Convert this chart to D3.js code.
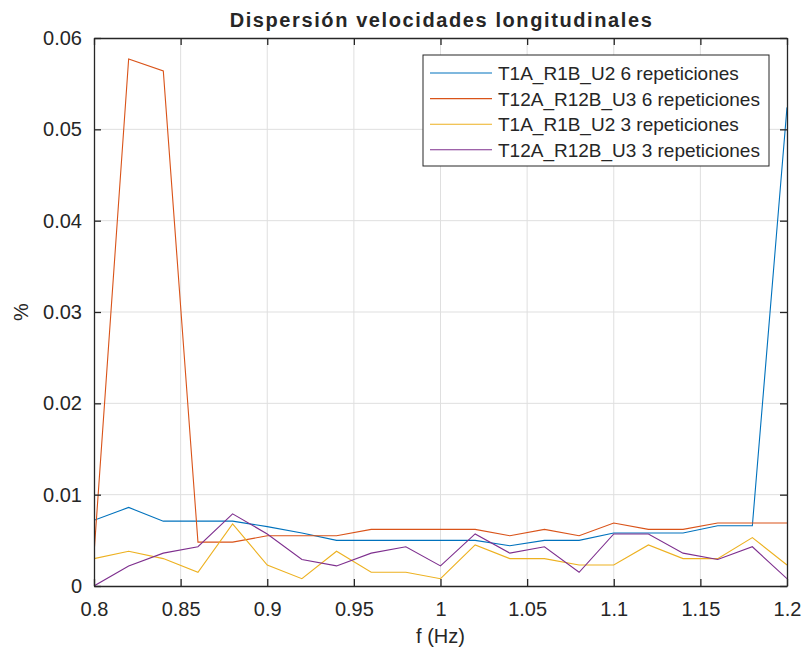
<!DOCTYPE html>
<html>
<head>
<meta charset="utf-8">
<script src="https://cdn.jsdelivr.net/npm/d3@7"></script>
<style>
  body { margin: 0; background: #fff; }
  svg text { font-family: "Liberation Sans", Arial, sans-serif; fill: #262626; }
</style>
</head>
<body>
<div id="chart"></div>
<script>
// frequencies (Hz)
var vFreq = [0.80, 0.82, 0.84, 0.86, 0.88, 0.90, 0.92, 0.94, 0.96, 0.98, 1.00,
             1.02, 1.04, 1.06, 1.08, 1.10, 1.12, 1.14, 1.16, 1.18, 1.20];

// series values (%)
var vT1A6 = [0.0072, 0.0086, 0.0071, 0.0071, 0.0071, 0.0065, 0.0058, 0.0050, 0.0050, 0.0050, 0.0050,
             0.0050, 0.0044, 0.0050, 0.0050, 0.0058, 0.0058, 0.0058, 0.0066, 0.0066, 0.0524];
var vT12A6 = [0.0035, 0.0577, 0.0564, 0.0048, 0.0048, 0.0055, 0.0055, 0.0055, 0.0062, 0.0062, 0.0062,
              0.0062, 0.0055, 0.0062, 0.0055, 0.0069, 0.0062, 0.0062, 0.0069, 0.0069, 0.0069];
var vT1A3 = [0.0030, 0.0038, 0.0030, 0.0015, 0.0068, 0.0023, 0.0008, 0.0038, 0.0015, 0.0015, 0.0008,
             0.0045, 0.0030, 0.0030, 0.0023, 0.0023, 0.0045, 0.0030, 0.0030, 0.0053, 0.0023];
var vT12A3 = [0.0000, 0.0022, 0.0036, 0.0043, 0.0079, 0.0057, 0.0029, 0.0022, 0.0036, 0.0043, 0.0022,
              0.0057, 0.0036, 0.0043, 0.0015, 0.0057, 0.0057, 0.0036, 0.0029, 0.0043, 0.0008];

var vSeriesNames = ["T1A_R1B_U2 6 repeticiones", "T12A_R12B_U3 6 repeticiones",
                    "T1A_R1B_U2 3 repeticiones", "T12A_R12B_U3 3 repeticiones"];
var vSeriesColors = ["#0072BD", "#D95319", "#EDB120", "#7E2F8E"];

var vXTicks = [0.8, 0.85, 0.9, 0.95, 1, 1.05, 1.1, 1.15, 1.2];
var vYTicks = [0, 0.01, 0.02, 0.03, 0.04, 0.05, 0.06];

// dimensions
var vMargin = { mTop: 38, mRight: 19, mBottom: 69, mLeft: 94 },
    vWidth = 806 - vMargin.mLeft - vMargin.mRight,
    vHeight = 655 - vMargin.mTop - vMargin.mBottom;

var svg = d3.select("#chart")
    .append("svg")
    .attr("width", 806)
    .attr("height", 655);

var g = svg.append("g")
    .attr("transform", "translate(" + vMargin.mLeft + "," + vMargin.mTop + ")");

var x = d3.scaleLinear().domain([0.8, 1.2]).range([0, vWidth]);
var y = d3.scaleLinear().domain([0, 0.06]).range([vHeight, 0]);

var cAxis = "#262626";

// grid
g.append("g").selectAll("line")
    .data(vXTicks.slice(1, -1))
    .enter().append("line")
    .attr("x1", function (d) { return x(d); })
    .attr("x2", function (d) { return x(d); })
    .attr("y1", 0).attr("y2", vHeight)
    .attr("stroke", "#dfdfdf").attr("stroke-width", 1);
g.append("g").selectAll("line")
    .data(vYTicks.slice(1, -1))
    .enter().append("line")
    .attr("y1", function (d) { return y(d); })
    .attr("y2", function (d) { return y(d); })
    .attr("x1", 0).attr("x2", vWidth)
    .attr("stroke", "#dfdfdf").attr("stroke-width", 1);

// lines
var vSeries = [vT1A6, vT12A6, vT1A3, vT12A3];
var vLine = d3.line()
    .x(function (d, i) { return x(vFreq[i]); })
    .y(function (d) { return y(d); });

var plot = g.append("g");
plot.append("clipPath").attr("id", "clip")
    .append("rect").attr("width", vWidth).attr("height", vHeight);
vSeries.forEach(function (aValues, aIdx) {
    plot.append("path")
        .datum(aValues)
        .attr("clip-path", "url(#clip)")
        .attr("fill", "none")
        .attr("stroke", vSeriesColors[aIdx])
        .attr("stroke-width", 1.1)
        .attr("d", vLine);
});

// axes (box with inward ticks)
function styleAxis(aSel) {
    aSel.select(".domain").attr("stroke", cAxis).attr("stroke-width", 1.3);
    aSel.selectAll(".tick line").attr("stroke", cAxis).attr("stroke-width", 1.3);
    aSel.selectAll(".tick text")
        .style("font-size", "20px")
        .attr("fill", cAxis);
}

g.append("g")
    .attr("transform", "translate(0," + vHeight + ")")
    .call(d3.axisBottom(x).tickValues(vXTicks).tickSizeInner(-7).tickSizeOuter(0)
        .tickPadding(16).tickFormat(d3.format("")))
    .call(styleAxis);
g.append("g")
    .call(d3.axisTop(x).tickValues(vXTicks).tickSizeInner(-7).tickSizeOuter(0)
        .tickFormat(""))
    .call(styleAxis);
g.append("g")
    .call(d3.axisLeft(y).tickValues(vYTicks).tickSizeInner(-7).tickSizeOuter(0)
        .tickPadding(12).tickFormat(function (d) { return d === 0 ? "0" : d3.format(".2f")(d); }))
    .call(styleAxis);
g.append("g")
    .attr("transform", "translate(" + vWidth + ",0)")
    .call(d3.axisRight(y).tickValues(vYTicks).tickSizeInner(-7).tickSizeOuter(0)
        .tickFormat(""))
    .call(styleAxis);

// title and axis labels
svg.append("text")
    .attr("x", vMargin.mLeft + vWidth / 2 + 1)
    .attr("y", 27)
    .attr("text-anchor", "middle")
    .style("font-size", "20px")
    .style("font-weight", "bold")
    .style("letter-spacing", "1.6px")
    .text("Dispersión velocidades longitudinales");

svg.append("text")
    .attr("x", vMargin.mLeft + vWidth / 2)
    .attr("y", 643)
    .attr("text-anchor", "middle")
    .style("font-size", "20px")
    .text("f (Hz)");

svg.append("text")
    .attr("transform", "translate(28," + (vMargin.mTop + vHeight / 2) + ")rotate(-90)")
    .attr("text-anchor", "middle")
    .style("font-size", "20px")
    .text("%");

// legend
var legend = svg.append("g").attr("transform", "translate(423,55)");
legend.append("rect")
    .attr("width", 346).attr("height", 111)
    .attr("fill", "#fff")
    .attr("stroke", cAxis).attr("stroke-width", 1);
vSeriesNames.forEach(function (aName, aIdx) {
    var vRowY = 18 + aIdx * 25.6;
    legend.append("line")
        .attr("x1", 7).attr("x2", 69)
        .attr("y1", vRowY).attr("y2", vRowY)
        .attr("stroke", vSeriesColors[aIdx]).attr("stroke-width", 1.1);
    legend.append("text")
        .attr("x", 75).attr("y", vRowY + 7)
        .style("font-size", "19px")
        .text(aName);
});
</script>
</body>
</html>
